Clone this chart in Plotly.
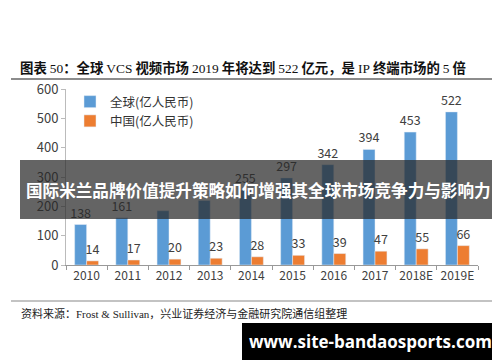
import plotly.graph_objects as go

categories = ["2010", "2011", "2012", "2013", "2014", "2015", "2016", "2017", "2018E", "2019E"]
global_vals = [138, 161, 185, 220, 255, 297, 342, 394, 453, 522]
china_vals = [14, 17, 20, 23, 28, 33, 39, 47, 55, 66]
global_labels = ["138", "161", "", "", "255", "297", "342", "394", "453", "522"]
china_labels = [str(v) for v in china_vals]

W, H = 500, 362
L, R, T, B = 58, 470, 81, 257


def px(x):
    return (x - L) / (R - L)


def py(y):
    return (B - y) / (B - T)


FONT = "Noto Sans CJK SC"
SERIF = "Liberation Serif"


def serif(s, bold=False):
    inner = f'<span style="font-family:{SERIF};font-weight:{"bold" if bold else "normal"}">{s}</span>'
    return inner


fig = go.Figure()
fig.add_trace(go.Bar(
    x=categories, y=global_vals, name="全球(亿人民币)",
    marker_color="#5B9BD5", text=global_labels, textposition="outside",
    constraintext="none",
    textfont=dict(size=12.5, color="#404040", family=FONT), cliponaxis=False,
))
fig.add_trace(go.Bar(
    x=categories, y=china_vals, name="中国(亿人民币)",
    marker_color="#ED7D31", text=china_labels, textposition="outside",
    constraintext="none",
    textfont=dict(size=12.5, color="#404040", family=FONT), cliponaxis=False,
))

shapes = [
    dict(type="line", xref="paper", yref="paper", x0=px(3), x1=px(497), y0=py(71), y1=py(71),
         line=dict(color="#666666", width=1.5)),
    dict(type="line", xref="paper", yref="paper", x0=px(3), x1=px(497), y0=py(293), y1=py(293),
         line=dict(color="#888888", width=1.2)),
    dict(type="rect", xref="paper", yref="paper", x0=px(12), x1=px(488), y0=py(211), y1=py(152),
         fillcolor="rgba(40,40,40,0.72)", line=dict(width=0), layer="above"),
    dict(type="rect", xref="paper", yref="paper", x0=px(234), x1=px(490), y0=py(352), y1=py(315),
         fillcolor="#000000", line=dict(width=0), layer="above"),
]

title_text = ("<b>图表</b> " + serif("50") + "<b>：全球</b> " + serif("VCS") + " <b>视频市场</b> "
              + serif("2019") + " <b>年将达到</b> " + serif("522") + " <b>亿元，是</b> "
              + serif("IP") + " <b>终端市场的</b> " + serif("5") + " <b>倍</b>")
source_text = ("资料来源：" + serif("Frost &amp; Sullivan") + "，兴业证券经济与金融研究院通信组整理")

annotations = [
    dict(text=title_text,
         xref="paper", yref="paper", x=px(10), y=py(59), xanchor="left", yanchor="middle",
         showarrow=False, font=dict(size=13.4, color="#111111", family=FONT)),
    dict(text=source_text,
         xref="paper", yref="paper", x=px(11), y=py(305), xanchor="left", yanchor="middle",
         showarrow=False, font=dict(size=11, color="#222222", family=FONT)),
    dict(text="<b>国际米兰品牌价值提升策略如何增强其全球市场竞争力与影响力</b>",
         xref="paper", yref="paper", x=px(250), y=py(182), xanchor="center", yanchor="middle",
         showarrow=False, font=dict(size=16.6, color="#ffffff", family=FONT)),
    dict(text="<b>www.site-bandaosports.com</b>",
         xref="paper", yref="paper", x=px(362), y=py(333), xanchor="center", yanchor="middle",
         showarrow=False, font=dict(size=17, color="#ffffff", family="Open Sans")),
]

fig.update_layout(
    width=W, height=H,
    margin=dict(l=L, r=W - R, t=T, b=H - B, pad=0),
    paper_bgcolor="white", plot_bgcolor="white",
    barmode="group", bargap=0.42, bargroupgap=0,
    font=dict(family=FONT, color="#404040"),
    legend=dict(x=px(62), y=py(79), xanchor="left", yanchor="top",
                font=dict(size=12.5, color="#333333", family=FONT),
                bgcolor="rgba(0,0,0,0)", itemwidth=30, tracegroupgap=0),
    shapes=shapes, annotations=annotations,
    showlegend=True,
)
fig.update_xaxes(
    showline=True, linecolor="#999999", linewidth=1,
    ticks="outside", tickson="boundaries", tickcolor="#999999", ticklen=4,
    tickangle=0,
    tickfont=dict(size=12, color="#404040", family=FONT),
    showgrid=False,
)
fig.update_yaxes(
    range=[0, 600], dtick=100,
    showline=True, linecolor="#bbbbbb", linewidth=1,
    ticks="outside", tickcolor="#bbbbbb", ticklen=4,
    tickfont=dict(size=13, color="#404040", family=FONT),
    showgrid=False, zeroline=False,
)

fig.write_html("out.html")
